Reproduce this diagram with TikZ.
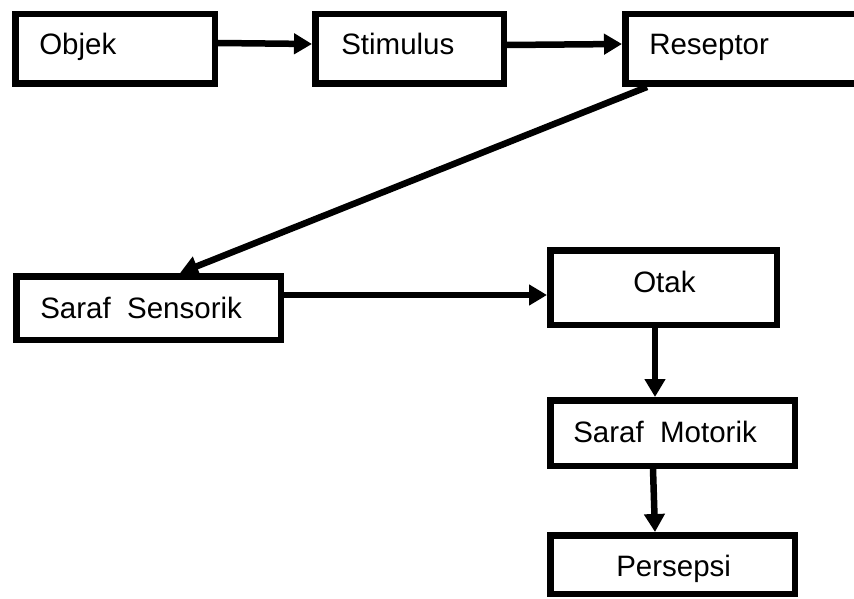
\documentclass[tikz,border=0pt]{standalone}
\usepackage{fontspec}
\setmainfont{Liberation Sans}
\usetikzlibrary{arrows.meta,positioning}

\begin{document}
\begin{tikzpicture}[
    x = 1pt, y = -1pt,
    > = {Triangle[length=18pt,width=20pt]}, % arrow head style
    line width = 6.5pt, % thick lines everywhere
    box/.style = {draw = black, fill = white, rectangle, inner sep = 0pt},
    txt/.style = {anchor = base west, inner sep = 0pt, font = \fontsize{29.5}{35}\selectfont},
    arr/.style = {->, line width = 6.5pt}
    ]

    \useasboundingbox (0,0) rectangle (854,599);
    \clip (0,0) rectangle (854,599);

    % boxes
    \node[box, minimum width = 199.5pt, minimum height = 69.5pt] (objek) at (115,49) {};
    \node[box, minimum width = 188.5pt, minimum height = 69.5pt] (stimulus) at (409.5,49) {};
    \node[box, minimum width = 241.5pt, minimum height = 69.5pt] (reseptor) at (746,49) {};
    \node[box, minimum width = 264.5pt, minimum height = 63.5pt] (sensorik) at (148.5,308) {};
    \node[box, minimum width = 226.5pt, minimum height = 74.5pt] (otak) at (663.5,287.5) {};
    \node[box, minimum width = 244.5pt, minimum height = 65.5pt] (motorik) at (672.5,433) {};
    \node[box, minimum width = 244.5pt, minimum height = 58.5pt] (persepsi) at (672.5,564.5) {};

    % texts
    \node[txt] (objekT) at (36,55) {Objek};
    \node[txt] (stimulusT) at (338,55) {Stimulus};
    \node[txt] (reseptorT) at (646,55) {Reseptor};
    \node[txt] (sensorikT) at (37,318) {Saraf\ \ Sensorik};
    \node[txt] (otakT) at (630,292) {Otak};
    \node[txt] (motorikT) at (570,442) {Saraf\ \ Motorik};
    \node[txt] (persepsiT) at (613,576) {Persepsi};

    % arrows
    \draw[arr] ([yshift=6pt]objek.east) -- ([yshift=5pt]stimulus.west);
    \draw[arr] ([yshift=4pt]stimulus.east) -- ([yshift=5pt]reseptor.west);
    \draw[arr] ([xshift=25pt]reseptor.south west) -- ([xshift=31.5pt]sensorik.north);
    \draw[arr] ([yshift=13pt]sensorik.east) -- ([yshift=-7.5pt]otak.west);
    \draw[arr] ([xshift=-8.5pt]otak.south) -- ([xshift=-17.5pt]motorik.north);
    \draw[arr] ([xshift=-19.5pt]motorik.south) -- ([xshift=-17.5pt]persepsi.north);

\end{tikzpicture}
\end{document}
